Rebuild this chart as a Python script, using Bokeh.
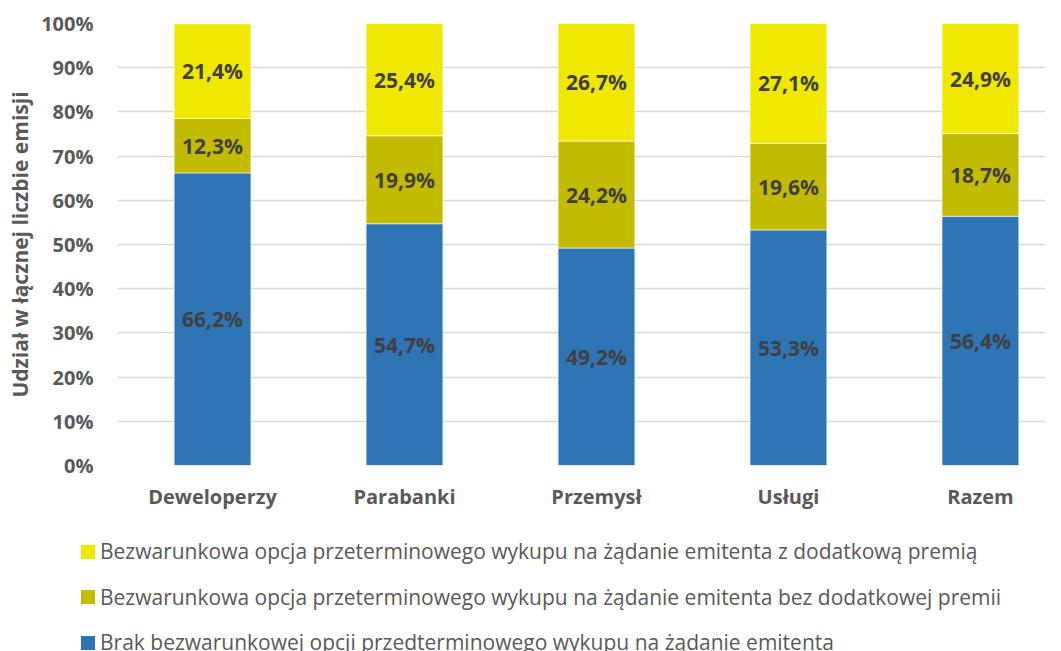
from bokeh.plotting import figure
from bokeh.layouts import column
from bokeh.models import Range1d, FixedTicker, ColumnDataSource, Div
from bokeh.core.properties import value
from bokeh.embed import file_html
from bokeh.resources import INLINE

categories = ["Deweloperzy", "Parabanki", "Przemysł", "Usługi", "Razem"]
brak = [66.2, 54.7, 49.2, 53.3, 56.4]
bez_premii = [12.3, 19.9, 24.2, 19.6, 18.7]
z_premia = [21.4, 25.4, 26.7, 27.1, 24.9]
y_ticks = [0, 10, 20, 30, 40, 50, 60, 70, 80, 90, 100]
series_names = [
    "Brak bezwarunkowej opcji przedterminowego wykupu na żądanie emitenta",
    "Bezwarunkowa opcja przeterminowego wykupu na żądanie emitenta bez dodatkowej premii",
    "Bezwarunkowa opcja przeterminowego wykupu na żądanie emitenta z dodatkową premią",
]
colors = ["#2E75B6", "#C3BB00", "#F0E800"]
FONT = "Open Sans"

xs = list(range(len(categories)))
src = ColumnDataSource(dict(x=xs, a=brak, b=bez_premii, c=z_premia))

p = figure(width=1045, height=526, output_backend="svg", toolbar_location=None,
           x_range=Range1d(-0.495, 4.339), y_range=Range1d(0, 100),
           min_border_left=117, min_border_right=0, min_border_top=23, min_border_bottom=61)
p.outline_line_color = None
p.background_fill_color = "white"
p.border_fill_color = "white"

renderers = p.vbar_stack(["a", "b", "c"], x="x", width=0.4, source=src,
                         color=colors, line_color="white", line_width=0.6)

# data labels at segment centres
lx, ly, lt = [], [], []
for i in range(len(categories)):
    base = 0.0
    for v in (brak[i], bez_premii[i], z_premia[i]):
        lx.append(i)
        ly.append(base + v / 2)
        lt.append(f"{v:.1f}".replace(".", ",") + "%")
        base += v
p.text(x=lx, y=ly, text=lt, text_align="center", text_baseline="middle",
       text_font=value(FONT), text_font_style="bold", text_font_size="21px",
       text_color="#404040")

# axes
p.xaxis.ticker = FixedTicker(ticks=xs)
p.xaxis.major_label_overrides = {i: c for i, c in enumerate(categories)}
p.xaxis.axis_line_color = None
p.xaxis.major_tick_line_color = None
p.xaxis.minor_tick_line_color = None
p.xaxis.major_label_text_font = FONT
p.xaxis.major_label_text_font_style = "bold"
p.xaxis.major_label_text_font_size = "20px"
p.xaxis.major_label_text_color = "#595959"
p.xaxis.major_label_standoff = 11
p.xgrid.grid_line_color = None

p.yaxis.ticker = FixedTicker(ticks=y_ticks)
p.yaxis.major_label_overrides = {t: f"{t}%" for t in y_ticks}
p.yaxis.axis_line_color = None
p.yaxis.major_tick_line_color = None
p.yaxis.minor_tick_line_color = None
p.yaxis.major_label_text_font = FONT
p.yaxis.major_label_text_font_style = "bold"
p.yaxis.major_label_text_font_size = "20px"
p.yaxis.major_label_text_color = "#595959"
p.yaxis.major_label_standoff = 18
p.yaxis.axis_label = "Udział w łącznej liczbie emisji"
p.yaxis.axis_label_text_font = FONT
p.yaxis.axis_label_text_font_style = "bold"
p.yaxis.axis_label_text_font_size = "21px"
p.yaxis.axis_label_text_color = "#595959"
p.yaxis.axis_label_standoff = 4
p.ygrid.grid_line_color = "#D9D9D9"
p.ygrid.grid_line_width = 1.3

# legend block under the chart (top series first)
rows = []
for k in (2, 1, 0):
    rows.append(
        f'<div style="height:45.5px;display:flex;align-items:center;white-space:nowrap;">'
        f'<span style="display:inline-block;width:14px;height:14px;background:{colors[k]};'
        f'margin-right:5px;flex:none;"></span>'
        f'<span>{series_names[k]}</span></div>'
    )
legend_html = (
    f'<div style="font-family:\'{FONT}\';font-size:21px;color:#595959;'
    f'padding-left:81px;padding-top:3px;line-height:1;">' + "".join(rows) + "</div>"
)
legend_div = Div(text=legend_html, width=1045, height=117, margin=(0, 0, 0, 0))

layout = column(p, legend_div, spacing=0)
open("out.html", "w").write(file_html(layout, INLINE))
